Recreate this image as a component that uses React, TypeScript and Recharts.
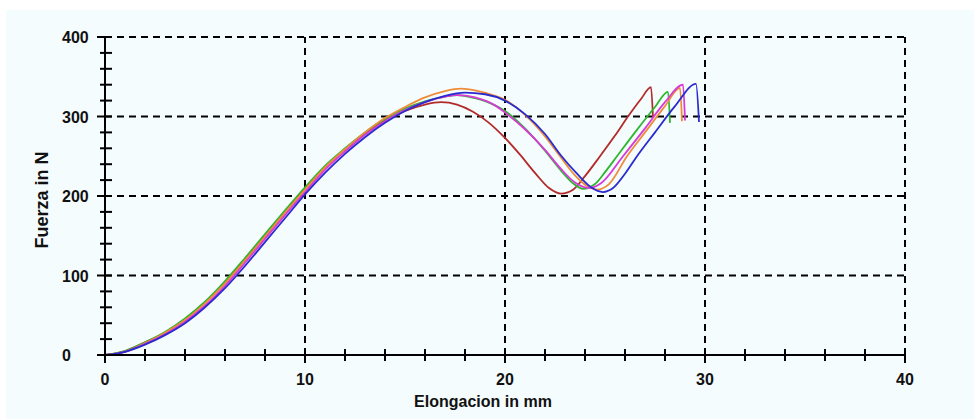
import React from 'react';
import { LineChart, Line, XAxis, YAxis, ReferenceLine, Label } from 'recharts';

// force-elongation curves, one per sample (x = mm, y = N)
const redCurve = [
  { x: 0, y: 0 }, { x: 1, y: 5 }, { x: 2, y: 16 }, { x: 3, y: 28 }, { x: 4, y: 45 },
  { x: 5, y: 66 }, { x: 6, y: 91 }, { x: 7, y: 120 }, { x: 8, y: 150 }, { x: 9, y: 180 },
  { x: 10, y: 209 }, { x: 11, y: 236 }, { x: 12, y: 259 }, { x: 13, y: 279 }, { x: 14, y: 295 },
  { x: 15, y: 307 }, { x: 16, y: 315 }, { x: 16.8, y: 318 }, { x: 17.6, y: 315 }, { x: 18.4, y: 306 },
  { x: 19.2, y: 292 }, { x: 20, y: 273 }, { x: 20.75, y: 252 }, { x: 21.5, y: 229 }, { x: 22.2, y: 210 },
  { x: 22.8, y: 203 }, { x: 23.4, y: 208 }, { x: 24, y: 225 }, { x: 24.75, y: 250 }, { x: 25.5, y: 276 },
  { x: 26.15, y: 300 }, { x: 26.8, y: 322 }, { x: 27.3, y: 337 }, { x: 27.4, y: 298 },
];

const greenCurve = [
  { x: 0, y: 0 }, { x: 1, y: 5 }, { x: 2, y: 16 }, { x: 3, y: 29 }, { x: 4, y: 46 },
  { x: 5, y: 67 }, { x: 6, y: 93 }, { x: 7, y: 122 }, { x: 8, y: 152 }, { x: 9, y: 182 },
  { x: 10, y: 211 }, { x: 11, y: 238 }, { x: 12, y: 260 }, { x: 13, y: 280 }, { x: 14, y: 297 },
  { x: 15, y: 310 }, { x: 16, y: 319 }, { x: 17, y: 325 }, { x: 17.6, y: 327 }, { x: 18.5, y: 323 },
  { x: 19.5, y: 314 }, { x: 20, y: 307 }, { x: 21, y: 285 }, { x: 22, y: 257 }, { x: 22.8, y: 232 },
  { x: 23.4, y: 216 }, { x: 23.9, y: 209 }, { x: 24.5, y: 215 }, { x: 25, y: 230 }, { x: 25.6, y: 250 },
  { x: 26.5, y: 280 }, { x: 27.5, y: 312 }, { x: 28.15, y: 331 }, { x: 28.25, y: 292 },
];

const orangeCurve = [
  { x: 0, y: 0 }, { x: 1, y: 4 }, { x: 2, y: 15 }, { x: 3, y: 28 }, { x: 4, y: 44 },
  { x: 5, y: 65 }, { x: 6, y: 90 }, { x: 7, y: 119 }, { x: 8, y: 149 }, { x: 9, y: 179 },
  { x: 10, y: 208 }, { x: 11, y: 236 }, { x: 12, y: 259 }, { x: 13, y: 280 }, { x: 14, y: 298 },
  { x: 15, y: 312 }, { x: 16, y: 324 }, { x: 17, y: 332 }, { x: 17.8, y: 335 }, { x: 18.5, y: 333 },
  { x: 19.5, y: 326 }, { x: 20, y: 321 }, { x: 21, y: 302 }, { x: 22, y: 275 }, { x: 22.75, y: 250 },
  { x: 23.5, y: 226 }, { x: 24.2, y: 211 }, { x: 24.6, y: 208 }, { x: 25.2, y: 215 }, { x: 26.1, y: 250 },
  { x: 27, y: 280 }, { x: 28, y: 313 }, { x: 28.75, y: 336 }, { x: 28.85, y: 294 },
];

const magentaCurve = [
  { x: 0, y: 0 }, { x: 1, y: 4 }, { x: 2, y: 14 }, { x: 3, y: 26 }, { x: 4, y: 42 },
  { x: 5, y: 62 }, { x: 6, y: 87 }, { x: 7, y: 116 }, { x: 8, y: 146 }, { x: 9, y: 176 },
  { x: 10, y: 205 }, { x: 11, y: 233 }, { x: 12, y: 256 }, { x: 13, y: 277 }, { x: 14, y: 294 },
  { x: 15, y: 308 }, { x: 16, y: 318 }, { x: 17, y: 325 }, { x: 17.6, y: 327 }, { x: 18.5, y: 324 },
  { x: 19.5, y: 314 }, { x: 20, y: 305 }, { x: 21, y: 284 }, { x: 22, y: 258 }, { x: 22.8, y: 234 },
  { x: 23.5, y: 217 }, { x: 24.2, y: 210 }, { x: 24.8, y: 216 }, { x: 25.9, y: 250 }, { x: 27, y: 285 },
  { x: 28, y: 318 }, { x: 28.9, y: 340 }, { x: 29, y: 295 },
];

const blueCurve = [
  { x: 0, y: 0 }, { x: 1, y: 4 }, { x: 2, y: 13 }, { x: 3, y: 25 }, { x: 4, y: 40 },
  { x: 5, y: 60 }, { x: 6, y: 84 }, { x: 7, y: 112 }, { x: 8, y: 142 }, { x: 9, y: 172 },
  { x: 10, y: 202 }, { x: 11, y: 229 }, { x: 12, y: 253 }, { x: 13, y: 274 }, { x: 14, y: 292 },
  { x: 15, y: 307 }, { x: 16, y: 318 }, { x: 17, y: 326 }, { x: 18, y: 330 }, { x: 19, y: 328 },
  { x: 20, y: 320 }, { x: 21, y: 303 }, { x: 22, y: 278 }, { x: 22.8, y: 251 }, { x: 23.6, y: 228 },
  { x: 24.3, y: 211 }, { x: 24.9, y: 205 }, { x: 25.4, y: 210 }, { x: 26, y: 228 }, { x: 26.6, y: 250 },
  { x: 27.5, y: 280 }, { x: 28.5, y: 313 }, { x: 29.55, y: 341 }, { x: 29.7, y: 293 },
];

const xTicks = [0, 2, 4, 6, 8, 10, 12, 14, 16, 18, 20, 22, 24, 26, 28, 30, 32, 34, 36, 38, 40];
const yTicks = [0, 20, 40, 60, 80, 100, 120, 140, 160, 180, 200, 220, 240, 260, 280, 300, 320, 340, 360, 380, 400];
const xGrid = [10, 20, 30, 40];
const yGrid = [100, 200, 300, 400];

const series = [
  { name: 'red', data: redCurve, color: '#b32a2a' },
  { name: 'green', data: greenCurve, color: '#2fb62f' },
  { name: 'orange', data: orangeCurve, color: '#f08c38' },
  { name: 'magenta', data: magentaCurve, color: '#d83ad8' },
  { name: 'blue', data: blueCurve, color: '#2a2ad0' },
];

const font = '"Liberation Sans", Arial, sans-serif';

function XTick(props: any) {
  const { x, y, payload } = props;
  const major = payload.value % 10 === 0;
  return (
    <g>
      <line x1={x} x2={x} y1={y - 6} y2={y + (major ? 8 : 6)} stroke="#000" strokeWidth={2} />
      {major && (
        <text x={x} y={y + 30} textAnchor="middle" fontFamily={font} fontWeight="bold" fontSize={16} fill="#111">
          {payload.value}
        </text>
      )}
    </g>
  );
}

function YTick(props: any) {
  const { x, y, payload } = props;
  const major = payload.value % 100 === 0;
  return (
    <g>
      <line x1={x - (major ? 8 : 5)} x2={x + 7} y1={y} y2={y} stroke="#000" strokeWidth={2} />
      {major && (
        <text x={x - 43} y={y + 6} textAnchor="start" fontFamily={font} fontWeight="bold" fontSize={16} fill="#111">
          {payload.value}
        </text>
      )}
    </g>
  );
}

export default function App() {
  return (
    <div style={{ position: 'absolute', left: 0, top: 0, width: 974, height: 419, background: '#fff' }}>
      <div style={{ position: 'absolute', left: 6, top: 10, right: 0, bottom: 0, background: '#f4fcfd' }} />
      <div style={{ position: 'absolute', left: 0, top: 0 }}>
        <LineChart width={974} height={419} margin={{ top: 37, right: 69, bottom: 34, left: 5 }}>
          <XAxis
            dataKey="x"
            type="number"
            domain={[0, 40]}
            ticks={xTicks}
            interval={0}
            allowDataOverflow
            height={30}
            tickSize={0}
            tickMargin={0}
            tickLine={false}
            tick={<XTick />}
            axisLine={{ stroke: '#000', strokeWidth: 2 }}
          >
            <Label
              content={() => (
                <text x={483} y={407} textAnchor="middle" fontFamily={font} fontWeight="bold" fontSize={16} fill="#111">
                  Elongacion in mm
                </text>
              )}
            />
          </XAxis>
          <YAxis
            dataKey="y"
            type="number"
            domain={[0, 400]}
            ticks={yTicks}
            interval={0}
            allowDataOverflow
            width={100}
            tickSize={0}
            tickMargin={0}
            tickLine={false}
            tick={<YTick />}
            axisLine={{ stroke: '#000', strokeWidth: 2 }}
          >
            <Label
              content={() => (
                <text
                  x={48}
                  y={200}
                  transform="rotate(-90 48 200)"
                  textAnchor="middle"
                  fontFamily={font}
                  fontWeight="bold"
                  fontSize={18}
                  fill="#111"
                >
                  Fuerza in N
                </text>
              )}
            />
          </YAxis>
          {xGrid.map((v) => (
            <ReferenceLine key={'gx' + v} x={v} stroke="#000" strokeWidth={2} strokeDasharray="7 5" />
          ))}
          {yGrid.map((v) => (
            <ReferenceLine key={'gy' + v} y={v} stroke="#000" strokeWidth={2} strokeDasharray="7 5" />
          ))}
          {series.map((s) => (
            <Line
              key={s.name}
              data={s.data}
              dataKey="y"
              type="monotone"
              stroke={s.color}
              strokeWidth={1.8}
              dot={false}
              isAnimationActive={false}
            />
          ))}
        </LineChart>
      </div>
    </div>
  );
}
